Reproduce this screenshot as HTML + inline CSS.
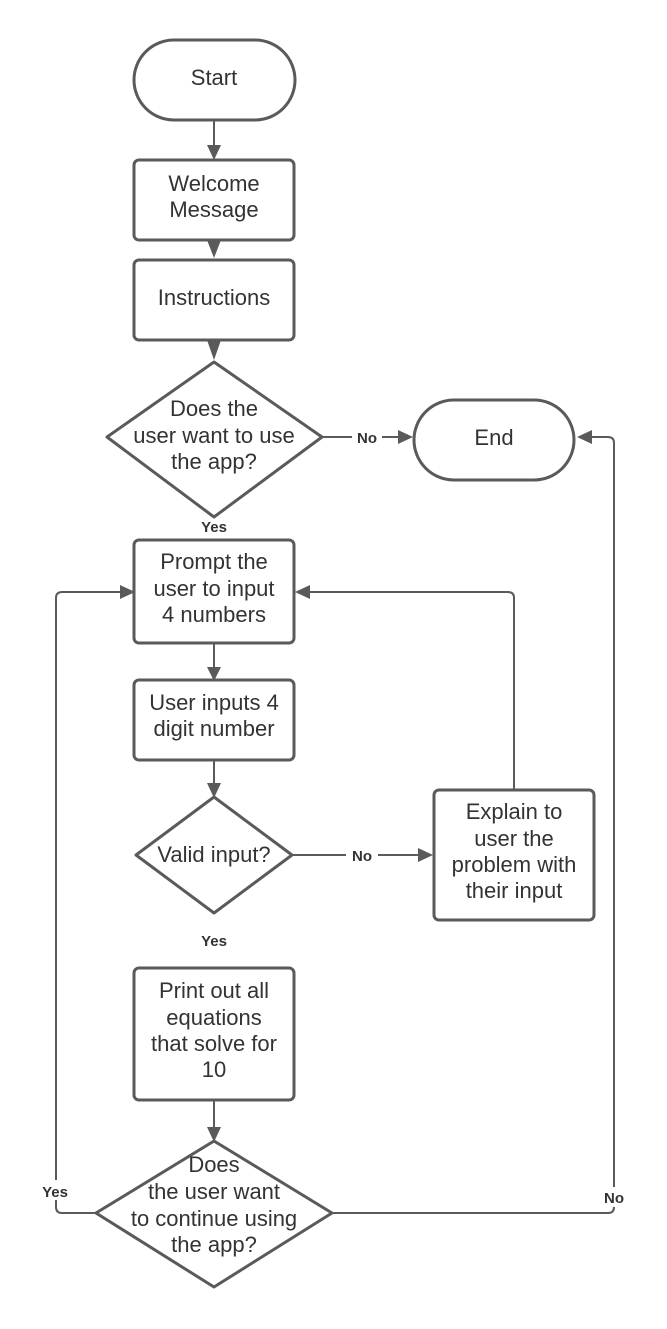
<!DOCTYPE html>
<html><head><style>
html,body{margin:0;padding:0;background:#fff;}
svg{display:block}
text{font-family:"Liberation Sans",sans-serif;fill:#333;}
.t{font-size:22px;text-anchor:middle;}
.t2{font-size:19px;text-anchor:middle;}
.l{font-size:15px;font-weight:bold;text-anchor:middle;fill:#333;}
.s{fill:#fff;stroke:#5a5a5a;stroke-width:3;}
.c{fill:none;stroke:#5a5a5a;stroke-width:2;}
.a{fill:#5a5a5a;}
</style></head><body>
<svg width="667" height="1329" viewBox="0 0 667 1329">
<path class="c" d="M214 120V146 M214 240V248 M214 340V350 M322 437H400 M214 643V668 M214 760V785 M214 1100V1129 M292 855H420 M514 790V598 Q514 592 508 592H308 M96 1213H62 Q56 1213 56 1207V598 Q56 592 62 592H122 M332 1213H608 Q614 1213 614 1207V443 Q614 437 608 437H590"/>
<polygon class="a" points="207,145 221,145 214,160"/>
<polygon class="a" points="207,240 221,240 214,258"/>
<polygon class="a" points="207,340 221,340 214,360"/>
<polygon class="a" points="398,430 398,444 413,437"/>
<polygon class="a" points="207,667 221,667 214,681"/>
<polygon class="a" points="207,783 221,783 214,798"/>
<polygon class="a" points="207,1127 221,1127 214,1142"/>
<polygon class="a" points="418,848 418,862 433,855"/>
<polygon class="a" points="310,585 310,599 295,592"/>
<polygon class="a" points="120,585 120,599 135,592"/>
<polygon class="a" points="592,430 592,444 577,437"/>
<rect class="s" x="134" y="40" width="161" height="80" rx="40"/>
<rect class="s" x="134" y="160" width="160" height="80" rx="5"/>
<rect class="s" x="134" y="260" width="160" height="80" rx="5"/>
<polygon class="s" stroke-linejoin="round" points="214,362 322,437 214,517 107,437"/>
<rect class="s" x="414" y="400" width="160" height="80" rx="40"/>
<rect class="s" x="134" y="540" width="160" height="103" rx="5"/>
<rect class="s" x="134" y="680" width="160" height="80" rx="5"/>
<polygon class="s" stroke-linejoin="round" points="214,797 292,855 214,913 136,855"/>
<rect class="s" x="434" y="790" width="160" height="130" rx="5"/>
<rect class="s" x="134" y="968" width="160" height="132" rx="5"/>
<polygon class="s" stroke-linejoin="round" points="214,1141 332,1213 214,1287 96,1213"/>
<text class="t" x="214" y="85">Start</text>
<text class="t" x="214" y="191">Welcome</text>
<text class="t" x="214" y="217">Message</text>
<text class="t" x="214" y="305">Instructions</text>
<text class="t" x="214" y="416">Does the</text>
<text class="t" x="214" y="443">user want to use</text>
<text class="t" x="214" y="469">the app?</text>
<text class="t" x="494" y="445">End</text>
<text class="t" x="214" y="569">Prompt the</text>
<text class="t" x="214" y="596">user to input</text>
<text class="t" x="214" y="622">4 numbers</text>
<text class="t" x="214" y="710">User inputs 4</text>
<text class="t" x="214" y="736">digit number</text>
<text class="t" x="214" y="862">Valid input?</text>
<text class="t" x="514" y="819">Explain to</text>
<text class="t" x="514" y="846">user the</text>
<text class="t" x="514" y="872">problem with</text>
<text class="t" x="514" y="898">their input</text>
<text class="t" x="214" y="998">Print out all</text>
<text class="t" x="214" y="1025">equations</text>
<text class="t" x="214" y="1051">that solve for</text>
<text class="t" x="214" y="1077">10</text>
<text class="t" x="214" y="1172">Does</text>
<text class="t" x="214" y="1199">the user want</text>
<text class="t" x="214" y="1226">to continue using</text>
<text class="t" x="214" y="1252">the app?</text>
<rect x="352" y="428" width="30" height="18" fill="#fff"/>
<text class="l" x="367" y="443">No</text>
<text class="l" x="214" y="532">Yes</text>
<rect x="346" y="846" width="32" height="18" fill="#fff"/>
<text class="l" x="362" y="861">No</text>
<text class="l" x="214" y="946">Yes</text>
<rect x="38" y="1180" width="36" height="20" fill="#fff"/>
<text class="l" x="55" y="1197">Yes</text>
<rect x="600" y="1187" width="28" height="20" fill="#fff"/>
<text class="l" x="614" y="1203">No</text>
</svg>
</body></html>
